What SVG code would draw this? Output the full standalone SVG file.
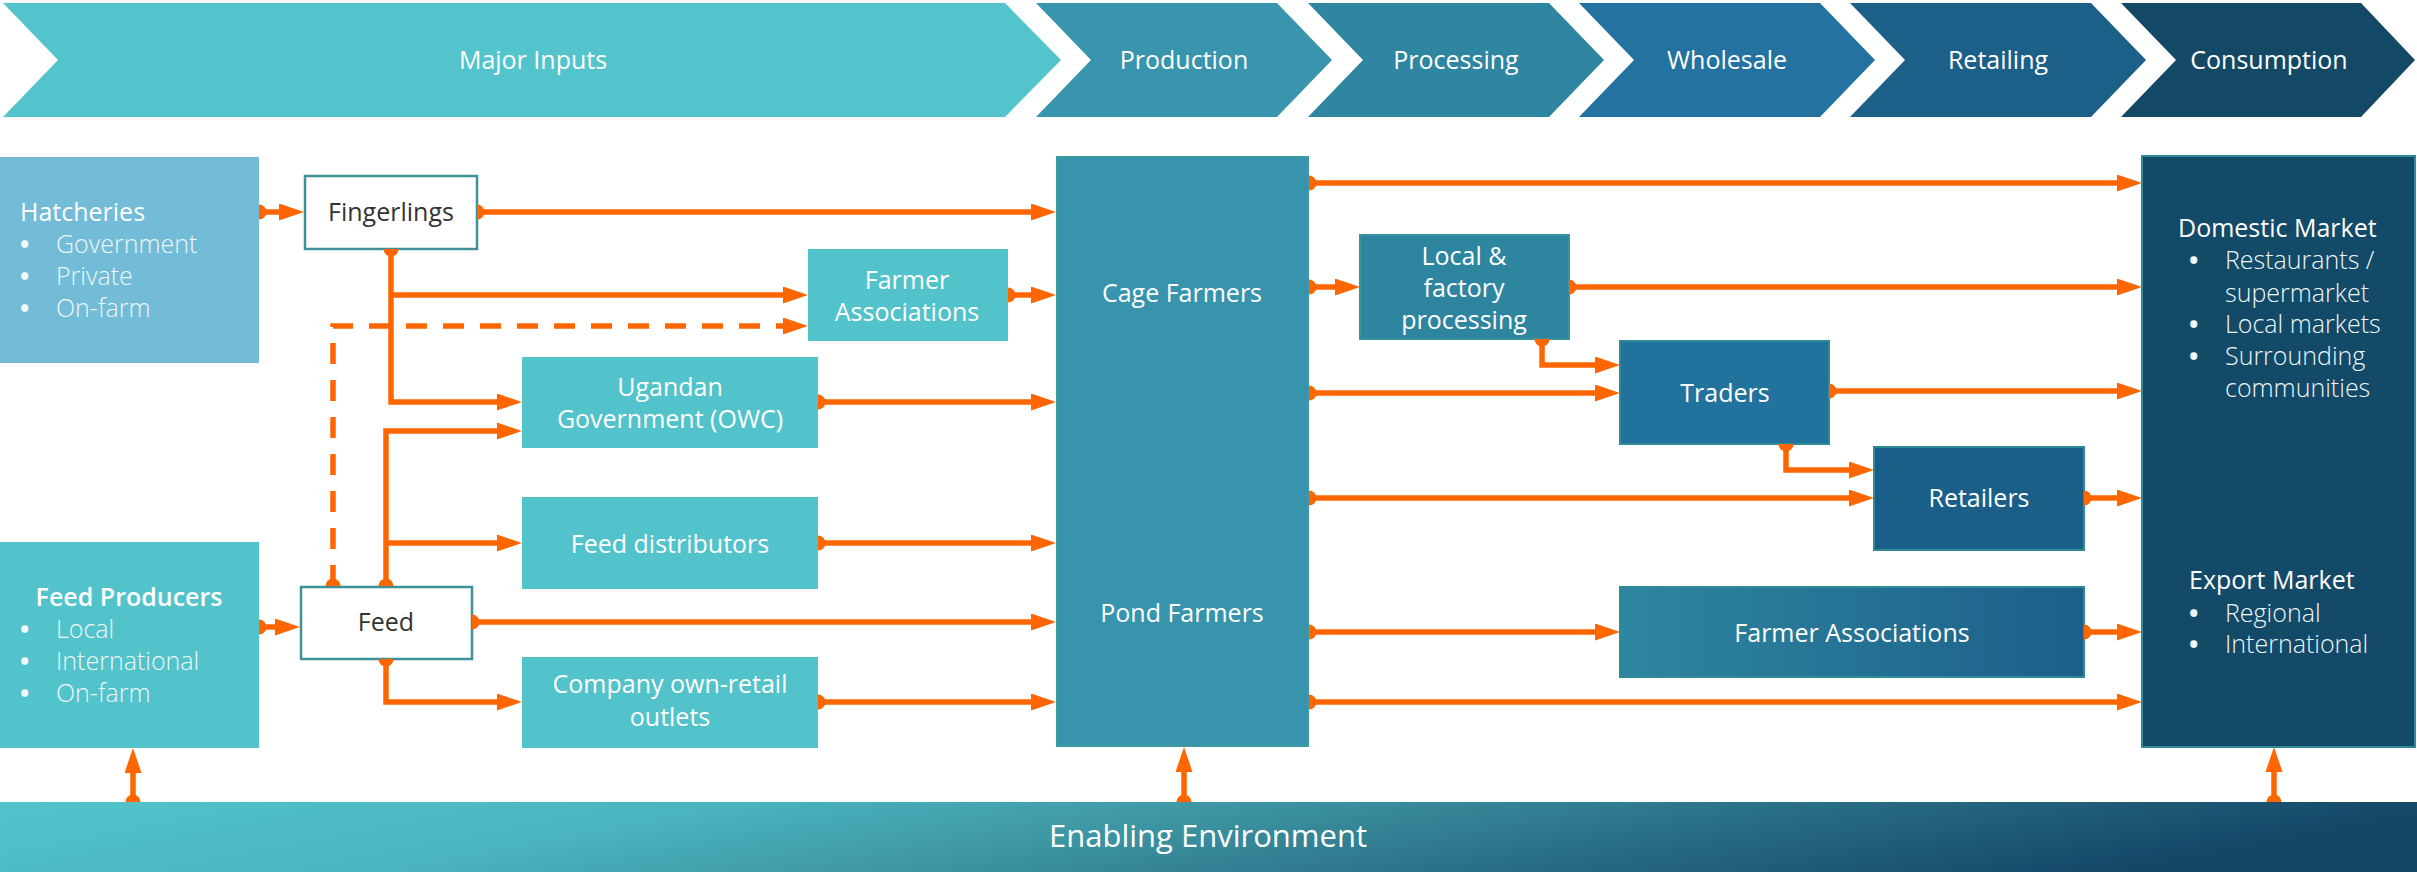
<svg xmlns="http://www.w3.org/2000/svg" width="2417" height="872" viewBox="0 0 2417 872">
<style>
text{font-family:"Open Sans","Liberation Sans",sans-serif;font-size:25px;fill:#fff;font-weight:400}
.c{text-anchor:middle}
.dk{fill:#333;font-weight:400}
.b{font-weight:500}
.it{fill:#EEF7F9;font-weight:300}
.bu{fill:#EEF7F9;font-size:25px;font-weight:700}
.con{fill:none;stroke:#FF6600;stroke-width:5.5;marker-end:url(#arr)}
.d{marker-start:url(#dot)}
.dash{stroke-dasharray:21 16}
.wb{fill:#fff;stroke:#3F9097;stroke-width:2.5}
.lt{fill:#52C3CA}
</style>
<defs>
<marker id="arr" viewBox="0 0 25 17" refX="0" refY="8.5" markerWidth="25" markerHeight="17" orient="auto" markerUnits="userSpaceOnUse"><path d="M0,0 L25,8.5 L0,17 Z" fill="#FF6600"/></marker>
<marker id="dot" viewBox="0 -8 8 16" refX="0" refY="0" markerWidth="8" markerHeight="16" orient="auto" markerUnits="userSpaceOnUse"><path d="M0,-7.5 A7.5,7.5 0 0 1 0,7.5 Z" fill="#FF6600"/></marker>
<linearGradient id="gEnv" x1="0" y1="0" x2="1" y2="0.15">
<stop offset="0" stop-color="#53C4CB"/><stop offset="0.3" stop-color="#4AB4BF"/><stop offset="0.5" stop-color="#3E97A3"/><stop offset="0.75" stop-color="#286C85"/><stop offset="1" stop-color="#134766"/>
</linearGradient>
<linearGradient id="gFA" x1="0" y1="0" x2="1" y2="0">
<stop offset="0" stop-color="#2E86A0"/><stop offset="1" stop-color="#1C5F89"/>
</linearGradient>
</defs>

<g id="stages">
<g id="stage-major-inputs"><polygon points="3,3 1005,3 1061,60 1005,117 3,117 58,60" fill="#53C4CB"/><text class="c" x="533" y="69">Major Inputs</text></g>
<g id="stage-production"><polygon points="1036,3 1277,3 1332,60 1277,117 1036,117 1091,60" fill="#3895AD"/><text class="c" x="1184" y="69">Production</text></g>
<g id="stage-processing"><polygon points="1308,3 1549,3 1604,60 1549,117 1308,117 1363,60" fill="#2E86A0"/><text class="c" x="1456" y="69">Processing</text></g>
<g id="stage-wholesale"><polygon points="1579,3 1820,3 1875,60 1820,117 1579,117 1634,60" fill="#23729F"/><text class="c" x="1727" y="69">Wholesale</text></g>
<g id="stage-retailing"><polygon points="1850,3 2091,3 2146,60 2091,117 1850,117 1905,60" fill="#1C5F89"/><text class="c" x="1998" y="69">Retailing</text></g>
<g id="stage-consumption"><polygon points="2121,3 2361,3 2415,60 2361,117 2121,117 2176,60" fill="#144966"/><text class="c" x="2269" y="69">Consumption</text></g>
</g>

<g id="hatcheries"><rect x="0" y="157" width="259" height="206" fill="#72BCD8"/>
<text x="20" y="221">Hatcheries</text>
<text class="bu" x="20" y="253">•</text><text class="it" x="56" y="253">Government</text>
<text class="bu" x="20" y="285">•</text><text class="it" x="56" y="285">Private</text>
<text class="bu" x="20" y="317">•</text><text class="it" x="56" y="317">On-farm</text>
</g>
<g id="feed-producers"><rect x="0" y="542" width="259" height="206" class="lt"/>
<text class="c" x="129" y="606" style="font-weight:600">Feed Producers</text>
<text class="bu" x="20" y="638">•</text><text class="it" x="56" y="638">Local</text>
<text class="bu" x="20" y="670">•</text><text class="it" x="56" y="670">International</text>
<text class="bu" x="20" y="702">•</text><text class="it" x="56" y="702">On-farm</text>
</g>
<g id="fingerlings"><rect x="305" y="176" width="172" height="73" class="wb"/><text class="c dk" x="391" y="221">Fingerlings</text></g>
<g id="feed"><rect x="301" y="587" width="171" height="72" class="wb"/><text class="c dk" x="386" y="631">Feed</text></g>
<g id="ugandan-government"><rect x="522" y="357" width="296" height="91" class="lt"/><text class="c" x="670" y="396">Ugandan</text><text class="c" x="670" y="428">Government (OWC)</text></g>
<g id="feed-distributors"><rect x="522" y="497" width="296" height="92" class="lt"/><text class="c" x="670" y="553">Feed distributors</text></g>
<g id="company-outlets"><rect x="522" y="657" width="296" height="91" class="lt"/><text class="c" x="670" y="693">Company own-retail</text><text class="c" x="670" y="726">outlets</text></g>
<g id="farmer-associations-input"><rect x="808" y="249" width="200" height="92" class="lt"/><text class="c" x="907" y="289">Farmer</text><text class="c" x="907" y="321">Associations</text></g>
<g id="cage-farmers"><rect x="1056" y="156" width="253" height="296" fill="#3794AC"/><text class="c b" x="1182" y="302">Cage Farmers</text></g>
<g id="pond-farmers"><rect x="1056" y="451" width="253" height="296" fill="#3794AC"/><text class="c b" x="1182" y="622">Pond Farmers</text></g>
<rect x="1057" y="157" width="251" height="589" fill="none" stroke="#3C9AA2" stroke-width="2"/>
<g id="local-factory-processing"><rect x="1360" y="235" width="209" height="104" fill="#2E85A0" stroke="#3A929E" stroke-width="2"/><text class="c" x="1464" y="265">Local &amp;</text><text class="c" x="1464" y="297">factory</text><text class="c" x="1464" y="329">processing</text></g>
<g id="traders"><rect x="1620" y="341" width="209" height="103" fill="#22729E" stroke="#2E8A96" stroke-width="2"/><text class="c" x="1725" y="402">Traders</text></g>
<g id="retailers"><rect x="1874" y="447" width="210" height="103" fill="#1B5F89" stroke="#2E8A96" stroke-width="2"/><text class="c" x="1979" y="507">Retailers</text></g>
<g id="farmer-associations-wholesale"><rect x="1620" y="587" width="464" height="90" fill="url(#gFA)" stroke="#2E8A96" stroke-width="2"/><text class="c" x="1852" y="642">Farmer Associations</text></g>
<g id="markets"><rect x="2142" y="156" width="273" height="591" fill="#134A68" stroke="#2E8A96" stroke-width="2"/>
<text class="b" x="2178" y="237">Domestic Market</text>
<text class="bu" x="2189" y="269">•</text><text class="it" x="2225" y="269">Restaurants /</text>
<text class="it" x="2225" y="302">supermarket</text>
<text class="bu" x="2189" y="333">•</text><text class="it" x="2225" y="333">Local markets</text>
<text class="bu" x="2189" y="365">•</text><text class="it" x="2225" y="365">Surrounding</text>
<text class="it" x="2225" y="397">communities</text>
<text class="b" x="2189" y="589">Export Market</text>
<text class="bu" x="2189" y="622">•</text><text class="it" x="2225" y="622">Regional</text>
<text class="bu" x="2189" y="653">•</text><text class="it" x="2225" y="653">International</text>
</g>
<g id="enabling-environment"><rect x="0" y="802" width="2417" height="70" fill="url(#gEnv)"/><text class="c" x="1208" y="847" style="font-size:31px">Enabling Environment</text></g>

<g id="connectors">
<path class="con d" d="M259,212 H279"/>
<path class="con d" d="M477,212 H1031"/>
<path class="con d" d="M391,249 V402 H497"/>
<path class="con" d="M391,295 H783"/>
<path class="con d dash" d="M333,586 V326 H783"/>
<path class="con d" d="M386,586 V431 H497"/>
<path class="con" d="M386,543 H497"/>
<path class="con d" d="M259,627 H275"/>
<path class="con d" d="M472,622 H1031"/>
<path class="con d" d="M386,659 V702 H497"/>
<path class="con d" d="M1008,295 H1031"/>
<path class="con d" d="M818,402 H1031"/>
<path class="con d" d="M818,543 H1031"/>
<path class="con d" d="M818,702 H1031"/>
<path class="con d" d="M1309,183 H2117"/>
<path class="con d" d="M1309,287 H1335"/>
<path class="con d" d="M1569,287 H2117"/>
<path class="con d" d="M1542,339 V365 H1595"/>
<path class="con d" d="M1309,393 H1595"/>
<path class="con d" d="M1829,391 H2117"/>
<path class="con d" d="M1786,444 V470 H1849"/>
<path class="con d" d="M1309,498 H1849"/>
<path class="con d" d="M2084,498 H2117"/>
<path class="con d" d="M1309,632 H1595"/>
<path class="con d" d="M2084,632 H2117"/>
<path class="con d" d="M1309,702 H2117"/>
<path class="con d" d="M133,802 V773"/>
<path class="con d" d="M1184,802 V772"/>
<path class="con d" d="M2274,802 V772"/>
</g>
</svg>
